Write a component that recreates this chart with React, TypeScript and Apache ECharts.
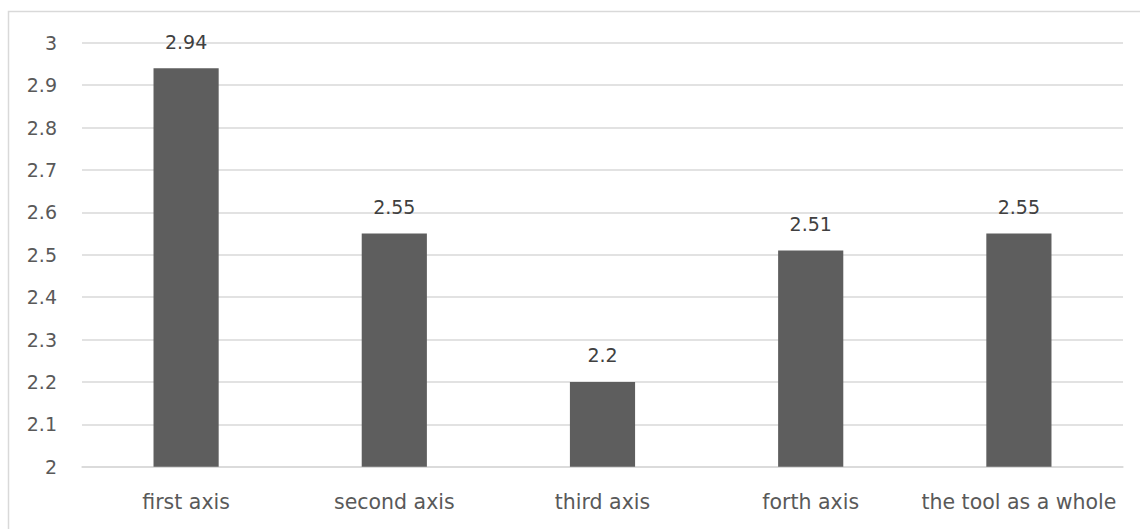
import React, { useEffect, useRef } from "react";
import * as echarts from "echarts";

const categories = ["first axis", "second axis", "third axis", "forth axis", "the tool as a whole"];
const values = [2.94, 2.55, 2.2, 2.51, 2.55];

const FONT = "DejaVu Sans";
const TEXT = "#595959";

export default function App() {
  const ref = useRef<HTMLDivElement>(null);
  useEffect(() => {
    if (!ref.current) return;
    const chart = echarts.init(ref.current, null, { renderer: "svg" });
    chart.setOption({
      animation: false,
      backgroundColor: "#ffffff",
      graphic: [
        {
          type: "rect",
          shape: { x: 8.5, y: 11.5, width: 1200, height: 600 },
          style: { fill: "none", stroke: "#d9d9d9", lineWidth: 1.5 },
          silent: true,
        },
      ],
      grid: { left: 82, right: 17, top: 42.7, bottom: 529 - 466.7, containLabel: false },
      xAxis: {
        type: "category",
        data: categories,
        axisLine: { show: true, lineStyle: { color: "#d9d9d9", width: 1.5 } },
        axisTick: { show: false },
        axisLabel: { color: TEXT, fontFamily: FONT, fontSize: 20.5, margin: 25, interval: 0 },
      },
      yAxis: {
        type: "value",
        min: 2,
        max: 3,
        interval: 0.1,
        axisLine: { show: false },
        axisTick: { show: false },
        splitLine: { lineStyle: { color: "#d9d9d9", width: 1.5 } },
        axisLabel: {
          color: TEXT,
          fontFamily: FONT,
          fontSize: 19,
          margin: 25,
          formatter: (v: number) => String(Math.round(v * 10) / 10),
        },
      },
      series: [
        {
          type: "bar",
          data: values,
          barWidth: "31.3%",
          itemStyle: { color: "#5e5e5e" },
          label: {
            show: true,
            position: "top",
            distance: 17,
            color: "#404040",
            fontFamily: FONT,
            fontSize: 19,
          },
        },
      ],
    });
    return () => chart.dispose();
  }, []);
  return (
    <div
      ref={ref}
      style={{ position: "fixed", left: 0, top: 0, width: 1140, height: 529 }}
    />
  );
}
